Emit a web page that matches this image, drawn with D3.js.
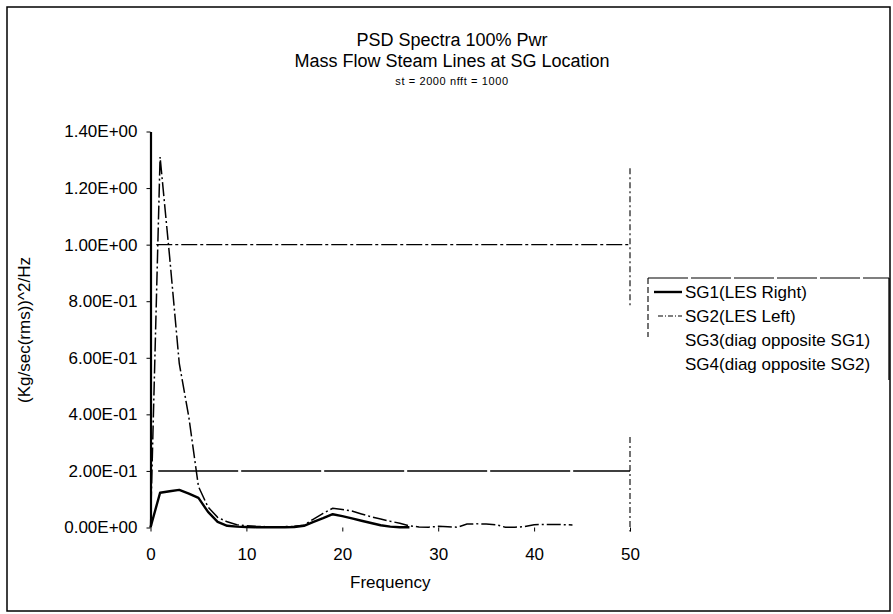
<!DOCTYPE html>
<html><head><meta charset="utf-8">
<script src="https://cdn.jsdelivr.net/npm/d3@7"></script>
<style>
body{margin:0;background:#fff}
svg{display:block}
text{font-family:"Liberation Sans",Arial,Helvetica,sans-serif;fill:#000}
</style>
</head><body>
<svg id="c" width="893" height="614"></svg>
<script>
// ---------- data ----------
const titleLines = ["PSD Spectra 100% Pwr", "Mass Flow Steam Lines at SG Location", "st = 2000  nfft = 1000"];
const xLabel = "Frequency";
const yLabel = "(Kg/sec(rms))^2/Hz";
const seriesNames = ["SG1(LES Right)", "SG2(LES Left)", "SG3(diag opposite SG1)", "SG4(diag opposite SG2)"];

const freqSG1 = [0,1,2,3,4,5,6,7,8,9,10,11,12,13,14,15,16,17,18,19,20,21,22,23,24,25,26,27];
const valSG1  = [0,0.123,0.128,0.133,0.12,0.105,0.055,0.02,0.006,0.003,0.002,0.001,0.001,0.001,0.001,0.002,0.006,0.02,0.033,0.047,0.04,0.032,0.024,0.016,0.008,0.003,0.001,0.001];

const freqSG2 = [0,1,2,3,4,5,6,7,8,9,10,11,12,13,14,15,16,17,18,19,20,21,22,23,24,25,26,27,28,29,30,31,32,33,34,35,36,37,38,39,40,41,42,43,44];
const valSG2  = [0,1.31,0.955,0.58,0.39,0.145,0.072,0.036,0.02,0.01,0.006,0.004,0.003,0.003,0.003,0.004,0.008,0.03,0.05,0.068,0.064,0.058,0.048,0.038,0.03,0.022,0.015,0.006,0.002,0.001,0.004,0.003,0.001,0.012,0.013,0.012,0.01,0.001,0.001,0.003,0.01,0.011,0.011,0.01,0.009];

const freqSG3 = [0,1,2,3,4,5,6,7,8,9,10];
const valSG3  = [0,0.01,0.012,0.01,0.008,0.005,0.003,0.002,0.001,0.001,0.001];
const freqSG4 = [0,1,2,3,4,5,6,7,8,9,10];
const valSG4  = [0,0.009,0.011,0.009,0.007,0.004,0.003,0.002,0.001,0.001,0.001];

const yTickValues = [0,0.2,0.4,0.6,0.8,1.0,1.2,1.4];
const yTickLabels = ["0.00E+00","2.00E-01","4.00E-01","6.00E-01","8.00E-01","1.00E+00","1.20E+00","1.40E+00"];
const xTickValues = [0,10,20,30,40,50];

const refLevelDashDot = 1.0;     // horizontal dash-dot reference
const refLevelDashed  = 0.2;     // horizontal long-dash reference
const refFreq = 50;              // vertical reference at right edge
const refFreqSegments = [[1.27, 0.8], [0.32, 0]];

// ---------- drawing ----------
const svg = d3.select("#c");
const x = d3.scaleLinear().domain([0, 50]).range([150.5, 630]);
const y = d3.scaleLinear().domain([0, 1.4]).range([527.5, 131.5]);

// outer frame
svg.append("rect").attr("x", 7).attr("y", 7).attr("width", 883).attr("height", 604)
  .attr("fill", "none").attr("stroke", "#000").attr("stroke-width", 1.5);

// titles
const tcx = 452;
svg.append("text").attr("x", tcx).attr("y", 46).attr("text-anchor", "middle")
  .style("font-size", "18px").text(titleLines[0]);
svg.append("text").attr("x", tcx).attr("y", 67).attr("text-anchor", "middle")
  .style("font-size", "18px").text(titleLines[1]);
svg.append("text").attr("x", tcx).attr("y", 85).attr("text-anchor", "middle")
  .style("font-size", "11px").style("letter-spacing", "0.6px").text(titleLines[2]);

// reference lines
svg.append("line").attr("x1", x(0.6)).attr("x2", x(50)).attr("y1", y(refLevelDashDot)).attr("y2", y(refLevelDashDot))
  .attr("stroke", "#000").attr("stroke-width", 1.3).attr("stroke-dasharray", "16,3,3,3");
svg.append("line").attr("x1", x(0.8)).attr("x2", x(50)).attr("y1", y(refLevelDashed)).attr("y2", y(refLevelDashed))
  .attr("stroke", "#000").attr("stroke-width", 1.6).attr("stroke-dasharray", "80,3");
refFreqSegments.forEach(s => {
  svg.append("line").attr("x1", x(refFreq)).attr("x2", x(refFreq)).attr("y1", y(s[0])).attr("y2", y(s[1]) + 4)
    .attr("stroke", "#000").attr("stroke-width", 1.1).attr("stroke-dasharray", "6,3,2,3");
});

// y axis
const yAxis = d3.axisLeft(y).tickValues(yTickValues)
  .tickFormat((d, i) => yTickLabels[i]).tickSize(4).tickSizeOuter(0).tickPadding(9);
const gy = svg.append("g").attr("transform", `translate(${x(0)},0)`).call(yAxis);
gy.select(".domain").attr("stroke-width", 2.2);
gy.selectAll("text").style("font-size", "17px");

// x axis (domain line not visible in the reference)
const xAxis = d3.axisBottom(x).tickValues(xTickValues).tickSize(4).tickSizeOuter(0).tickPadding(16);
const gx = svg.append("g").attr("transform", `translate(0,${y(0)})`).call(xAxis);
gx.select(".domain").remove();
gx.selectAll("text").style("font-size", "17px");

// axis titles
svg.append("text").attr("x", x(25)).attr("y", 588).attr("text-anchor", "middle")
  .style("font-size", "17px").text(xLabel);
svg.append("text").attr("transform", "translate(30,330) rotate(-90)").attr("text-anchor", "middle")
  .style("font-size", "17px").text(yLabel);

// series
const line = d3.line().x(d => x(d[0])).y(d => y(d[1]));
const zip = (f, v) => f.map((ff, i) => [ff, v[i]]);
svg.append("path").datum(zip(freqSG3, valSG3)).attr("d", line).attr("fill", "none").attr("stroke", "#fff").attr("stroke-width", 1);
svg.append("path").datum(zip(freqSG4, valSG4)).attr("d", line).attr("fill", "none").attr("stroke", "#fff").attr("stroke-width", 1);
svg.append("path").datum(zip(freqSG1, valSG1)).attr("d", line).attr("fill", "none")
  .attr("stroke", "#000").attr("stroke-width", 2.4).attr("stroke-linejoin", "round");
svg.append("path").datum(zip(freqSG2, valSG2)).attr("d", line).attr("fill", "none")
  .attr("stroke", "#000").attr("stroke-width", 1.5).attr("stroke-dasharray", "14,3,2,3");

// legend
const lg = svg.append("g");
const lx0 = 648, lx1 = 889, ly0 = 278;
const rowY = [292, 316, 340, 364];
lg.append("line").attr("x1", lx0).attr("x2", lx1).attr("y1", ly0).attr("y2", ly0)
  .attr("stroke", "#000").attr("stroke-width", 1.2).attr("stroke-dasharray", "40,3");
lg.append("line").attr("x1", lx0).attr("x2", lx0).attr("y1", ly0).attr("y2", ly0 + 59)
  .attr("stroke", "#000").attr("stroke-width", 1.1).attr("stroke-dasharray", "6,3");
lg.append("line").attr("x1", lx1).attr("x2", lx1).attr("y1", ly0).attr("y2", 380)
  .attr("stroke", "#000").attr("stroke-width", 1.3);
lg.append("line").attr("x1", 654).attr("x2", 682).attr("y1", rowY[0]).attr("y2", rowY[0])
  .attr("stroke", "#000").attr("stroke-width", 2.4);
lg.append("line").attr("x1", 658).attr("x2", 682).attr("y1", rowY[1]).attr("y2", rowY[1])
  .attr("stroke", "#000").attr("stroke-width", 1.1).attr("stroke-dasharray", "5,2,1,2");
seriesNames.forEach((n, i) => {
  lg.append("text").attr("x", 685).attr("y", rowY[i]).attr("dy", "0.36em")
    .style("font-size", "17px").text(n);
});
</script>
</body></html>
